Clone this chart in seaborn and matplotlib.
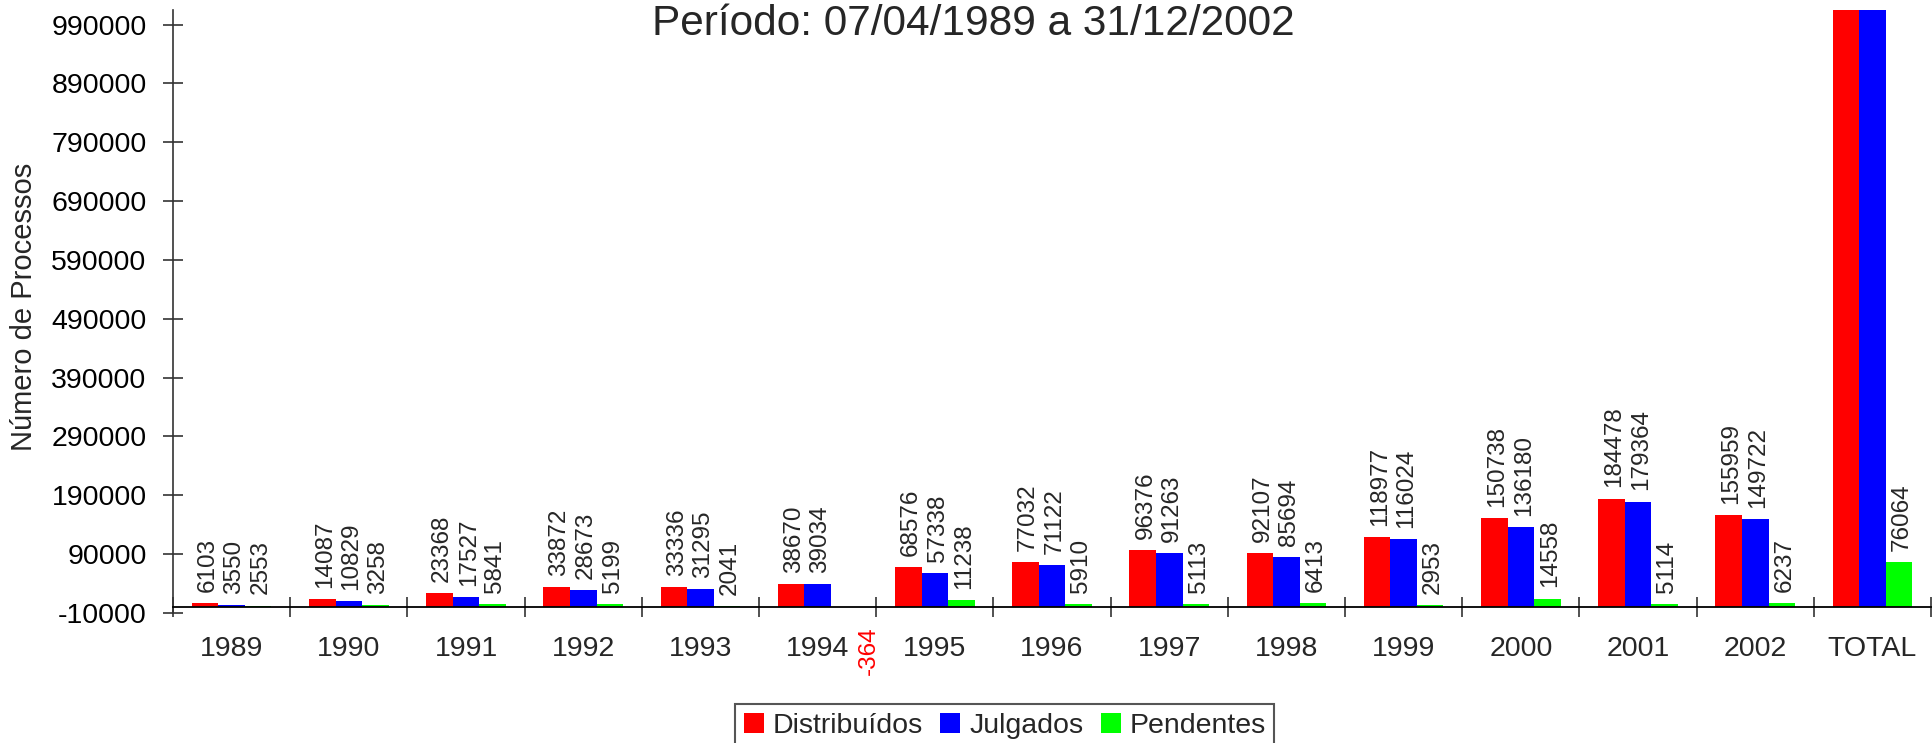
import matplotlib
matplotlib.use("Agg")
import matplotlib.pyplot as plt
import seaborn as sns
import pandas as pd

# data
anos = ["1989", "1990", "1991", "1992", "1993", "1994", "1995", "1996",
        "1997", "1998", "1999", "2000", "2001", "2002", "TOTAL"]
distribuidos = [6103, 14087, 23368, 33872, 33336, 38670, 68576, 77032,
                96376, 92107, 118977, 150738, 184478, 155959, 1093679]
julgados = [3550, 10829, 17527, 28673, 31295, 39034, 57338, 71122,
            91263, 85694, 116024, 136180, 179364, 149722, 1017615]
pendentes = [2553, 3258, 5841, 5199, 2041, -364, 11238, 5910,
             5113, 6413, 2953, 14558, 5114, 6237, 76064]
series = ["Distribuídos", "Julgados", "Pendentes"]
cores = ["#FF0000", "#0000FF", "#00FF00"]
y_ticks = list(range(-10000, 1000000, 100000))

rows = []
for nome, vals in zip(series, [distribuidos, julgados, pendentes]):
    for ano, v in zip(anos, vals):
        rows.append({"ano": ano, "serie": nome, "valor": v})
df = pd.DataFrame(rows)

sns.set_theme(style="white")
plt.rcParams["font.family"] = ["Liberation Sans", "DejaVu Sans"]

fig = plt.figure(figsize=(19.33, 7.43), dpi=100)
ax = fig.add_axes([0.0895, 0.175, 0.9095, 0.8118])

sns.barplot(data=df, x="ano", y="valor", hue="serie", palette=cores,
            width=0.68, saturation=1, linewidth=0, ax=ax)

# value labels
for cont, vals in zip(ax.containers, [distribuidos, julgados, pendentes]):
    for bar, v in zip(cont, vals):
        xc = bar.get_x() + bar.get_width() / 2
        if v >= 0:
            ax.annotate(str(v), (xc, v), xytext=(2, 8), textcoords="offset points",
                        rotation=90, ha="center", va="bottom", fontsize=17.5)
        else:
            ax.annotate(str(v), (xc, 0), xytext=(18, -14), textcoords="offset points",
                        rotation=90, ha="center", va="top", fontsize=17.5, color="#FF0000")

# spines first (moving a spine resets the ticks)
ax.spines["top"].set_visible(False)
ax.spines["right"].set_visible(False)
ax.spines["bottom"].set_position(("data", 0))
ax.spines["bottom"].set_color("black")
ax.spines["bottom"].set_linewidth(1.3)
ax.spines["left"].set_color("#333333")
ax.spines["left"].set_linewidth(1.2)

ax.set_xlim(-0.5, len(anos) - 0.5)
ax.set_ylim(-10000, 1015000)
ax.set_yticks(y_ticks)
ax.set_yticklabels([str(t) for t in y_ticks])
ax.tick_params(axis="y", direction="inout", length=14, width=1.2, pad=12, colors="#333333",
               labelcolor="black", labelsize=20.5, left=True)

ax.set_xticks(range(len(anos)))
ax.set_xticklabels(anos)
ax.set_xticks([i - 0.5 for i in range(len(anos) + 1)], minor=True)
ax.tick_params(axis="x", which="major", length=0, pad=21, labelsize=20.5, bottom=True)
ax.tick_params(axis="x", which="minor", direction="inout", length=14, width=1.2,
               colors="#333333", bottom=True)

ax.set_xlabel("")
ax.set_ylabel("Número de Processos", fontsize=21)
ax.yaxis.set_label_coords(-0.0767, 0.507)

handles, labels = ax.get_legend_handles_labels()
ax.legend(handles, labels, loc="upper center", bbox_to_anchor=(1005 / 1933, 1 - 704 / 743),
          bbox_transform=fig.transFigure, ncol=3, fontsize=20.5, frameon=True,
          fancybox=False, edgecolor="#555555", framealpha=1, borderpad=0.3,
          handlelength=0.7, handleheight=0.7, handletextpad=0.32, columnspacing=0.6,
          borderaxespad=0)
ax.get_legend().get_frame().set_linewidth(1.5)

fig.text(973 / 1933, 1 - 35 / 743, "Período: 07/04/1989 a 31/12/2002",
         ha="center", va="baseline", fontsize=30.5)

fig.savefig("out.png", dpi=100)
